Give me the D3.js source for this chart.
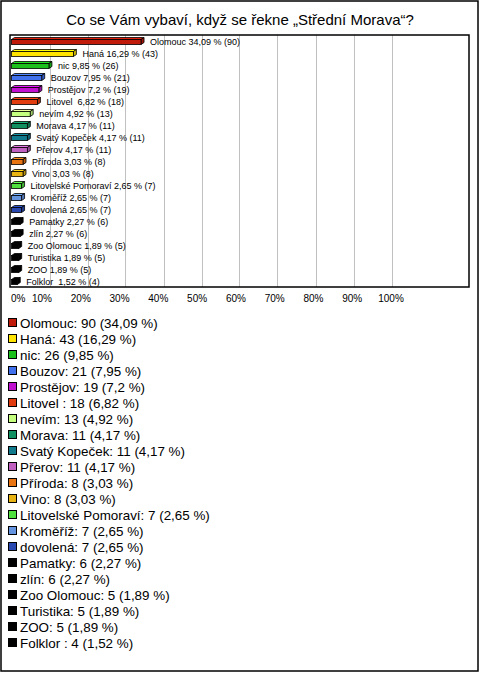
<!DOCTYPE html>
<html><head><meta charset="utf-8">
<script src="https://cdn.jsdelivr.net/npm/d3@7"></script>
<style>body{margin:0;background:#fff}svg{display:block}</style>
</head><body>
<script>
const categories = ["Olomouc","Haná","nic","Bouzov","Prostějov","Litovel ","nevím","Morava","Svatý Kopeček","Přerov","Příroda","Vino","Litovelské Pomoraví","Kroměříž","dovolená","Pamatky","zlín","Zoo Olomouc","Turistika","ZOO","Folklor "];
const counts = [90,43,26,21,19,18,13,11,11,11,8,8,7,7,7,6,6,5,5,5,4];
const percents = ["34,09","16,29","9,85","7,95","7,2","6,82","4,92","4,17","4,17","4,17","3,03","3,03","2,65","2,65","2,65","2,27","2,27","1,89","1,89","1,89","1,52"];
const colors = ["#c01a0a","#ffe400","#1cc01c","#4070ec","#c010d0","#e03c10","#c4ff80","#109060","#107a8c","#c060c0","#e87412","#e8b414","#50e040","#6494e0","#2848b0","#000","#000","#000","#000","#000","#000"];
const ticks = [0,10,20,30,40,50,60,70,80,90,100];
const title = "Co se Vám vybaví, když se řekne „Střední Morava“?";

const W=480,H=673;
const svg=d3.select("body").append("svg").attr("width",W).attr("height",H);
const font="Liberation Sans, Arial, sans-serif";
svg.append("rect").attr("x",1).attr("y",1).attr("width",477).attr("height",670).attr("fill","#fff").attr("stroke","#000").attr("stroke-width",1.5);
svg.append("text").attr("x",240).attr("y",25).attr("text-anchor","middle").attr("font-family",font).attr("font-size",15).text(title);

const pv = percents.map(p=>+p.replace(",","."));
const x=d3.scaleLinear().domain([0,100]).range([11.5,391.5]);
const xl=d3.scaleLinear().domain([10,100]).range([42,391]);
const y=d3.scaleBand().domain(categories.map((c,i)=>i)).range([35.5,287.5]);
const plot={l:10,r:469,t:35,b:287};

// gridlines
svg.append("g").selectAll("line").data(ticks.filter(t=>t>0)).join("line")
  .attr("x1",d=>Math.round(x(d))+0.5).attr("x2",d=>Math.round(x(d))+0.5)
  .attr("y1",plot.t).attr("y2",plot.b).attr("stroke","#c0c0c0").attr("stroke-width",1);
svg.append("rect").attr("x",plot.l).attr("y",plot.t).attr("width",plot.r-plot.l).attr("height",plot.b-plot.t)
  .attr("fill","none").attr("stroke","#000").attr("stroke-width",1.5);

// tick labels
svg.append("g").selectAll("text").data(ticks).join("text")
  .attr("x",d=>d===0?11:xl(d)).attr("y",302)
  .attr("text-anchor",d=>d===0?"start":"middle")
  .attr("font-family",font).attr("font-size",10).text(d=>d+"%");

// 3D bars
const dx=3, dy=2, bh=5;
const g=svg.append("g");
categories.forEach((c,i)=>{
  const yc=y(i)+y.bandwidth()/2;
  const x0=x(0), x1=x(pv[i]);
  const top=yc-2, bot=top+bh;
  const col=d3.color(colors[i]);
  const light = colors[i]==="#000" ? "#000" : col.brighter(0.5).formatHex();
  const dark = colors[i]==="#000" ? "#000" : col.darker(0.6).formatHex();
  g.append("path").attr("d",`M${x0},${top}L${x0+dx},${top-dy}L${x1+dx},${top-dy}L${x1},${top}Z`)
    .attr("fill",light).attr("stroke","#000").attr("stroke-width",0.8);
  g.append("path").attr("d",`M${x1},${top}L${x1+dx},${top-dy}L${x1+dx},${bot-dy}L${x1},${bot}Z`)
    .attr("fill",dark).attr("stroke","#000").attr("stroke-width",0.8);
  g.append("rect").attr("x",x0).attr("y",top).attr("width",x1-x0).attr("height",bh)
    .attr("fill",colors[i]).attr("stroke","#000").attr("stroke-width",0.8);
  g.append("text").attr("x",x1+dx+6).attr("y",yc+3.5).attr("font-family",font).attr("font-size",9)
    .style("white-space","pre")
    .text(`${c} ${percents[i]} % (${counts[i]})`);
});

// legend
const ly=d3.scaleLinear().domain([0,20]).range([323,643]);
const lg=svg.append("g");
categories.forEach((c,i)=>{
  lg.append("rect").attr("x",8.5).attr("y",ly(i)-4.5).attr("width",8).attr("height",8)
    .attr("fill",colors[i]).attr("stroke","#000").attr("stroke-width",1);
  lg.append("text").attr("x",20).attr("y",ly(i)+4.5).attr("font-family",font).attr("font-size",13.4)
    .style("white-space","pre").text(`${c.trimEnd()}${c.endsWith(" ")?" ":""}: ${counts[i]} (${percents[i]} %)`);
});
</script>
</body></html>
